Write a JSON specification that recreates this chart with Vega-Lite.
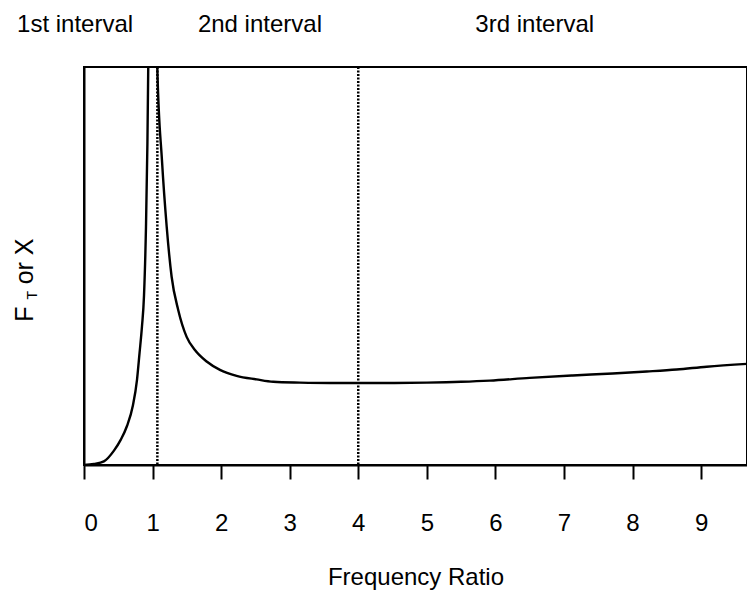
{
  "$schema": "https://vega.github.io/schema/vega-lite/v6.json",
  "autosize": "none",
  "padding": {"left": 84, "top": 67, "right": 0, "bottom": 138},
  "width": 663,
  "height": 398,
  "background": "white",
  "config": {
    "view": {"stroke": "black", "strokeWidth": 2},
    "font": "Liberation Sans",
    "text": {"font": "Liberation Sans", "color": "black", "fontWeight": "normal"}
  },
  "layer": [
    {
      "data": {
        "values": [
          {"ratio": 0, "amp": 0}, {"ratio": 0.146, "amp": 0.25}, {"ratio": 0.29, "amp": 0.9},
          {"ratio": 0.437, "amp": 3.6}, {"ratio": 0.535, "amp": 6.3}, {"ratio": 0.627, "amp": 9.8},
          {"ratio": 0.714, "amp": 15.0}, {"ratio": 0.773, "amp": 21.4}, {"ratio": 0.81, "amp": 28.1},
          {"ratio": 0.845, "amp": 34.7}, {"ratio": 0.875, "amp": 42.5}, {"ratio": 0.904, "amp": 59.8},
          {"ratio": 0.925, "amp": 80.9}, {"ratio": 0.937, "amp": 100}, {"ratio": 1.0, "amp": 300},
          {"ratio": 1.069, "amp": 100}, {"ratio": 1.137, "amp": 76.6}, {"ratio": 1.206, "amp": 59.9},
          {"ratio": 1.278, "amp": 47.3}, {"ratio": 1.375, "amp": 38.9}, {"ratio": 1.497, "amp": 32.2},
          {"ratio": 1.618, "amp": 28.9}, {"ratio": 1.789, "amp": 26.0}, {"ratio": 1.983, "amp": 23.9},
          {"ratio": 2.226, "amp": 22.4}, {"ratio": 2.518, "amp": 21.5}, {"ratio": 2.76, "amp": 20.9},
          {"ratio": 3.149, "amp": 20.7}, {"ratio": 3.586, "amp": 20.6}, {"ratio": 4.315, "amp": 20.6},
          {"ratio": 5.0, "amp": 20.7}, {"ratio": 5.5, "amp": 20.9}, {"ratio": 5.918, "amp": 21.2},
          {"ratio": 6.5, "amp": 21.9}, {"ratio": 7.128, "amp": 22.5}, {"ratio": 7.711, "amp": 23.0},
          {"ratio": 8.207, "amp": 23.5}, {"ratio": 8.644, "amp": 24.0}, {"ratio": 9.082, "amp": 24.7},
          {"ratio": 9.67, "amp": 25.4}
        ]
      },
      "mark": {"type": "line", "color": "black", "strokeWidth": 2.4, "clip": true, "interpolate": "monotone"},
      "encoding": {
        "x": {
          "field": "ratio", "type": "quantitative",
          "scale": {"domain": [0, 9.67], "nice": false, "zero": false},
          "axis": {
            "values": [0, 1, 2, 3, 4, 5, 6, 7, 8, 9],
            "format": "d",
            "title": "Frequency Ratio",
            "grid": false,
            "domainColor": "black", "domainWidth": 2,
            "tickColor": "black", "tickWidth": 2, "tickSize": 14,
            "labelFont": "Liberation Sans", "labelFontSize": 24, "labelColor": "black",
            "labelPadding": 32,
            "titleFont": "Liberation Sans", "titleFontSize": 24, "titleFontWeight": "normal",
            "titleColor": "black", "titlePadding": 30
          }
        },
        "y": {
          "field": "amp", "type": "quantitative",
          "scale": {"domain": [0, 100], "nice": false},
          "axis": {
            "title": null, "labels": false, "ticks": false, "grid": false,
            "domainColor": "black", "domainWidth": 2
          }
        }
      }
    },
    {
      "data": {"values": [{"pos": 1.07}, {"pos": 4}]},
      "mark": {"type": "rule", "color": "black", "strokeWidth": 2.5, "strokeDash": [2, 1.5]},
      "encoding": {"x": {"field": "pos", "type": "quantitative"}}
    },
    {
      "data": {"values": [{}]},
      "mark": {"type": "text", "text": "1st  interval", "fontSize": 24, "fontWeight": "normal", "align": "center", "baseline": "middle", "clip": false},
      "encoding": {"x": {"datum": -0.13, "type": "quantitative"}, "y": {"datum": 110.5, "type": "quantitative"}}
    },
    {
      "data": {"values": [{}]},
      "mark": {"type": "text", "text": "2nd interval", "fontSize": 24, "fontWeight": "normal", "align": "center", "baseline": "middle", "clip": false},
      "encoding": {"x": {"datum": 2.566, "type": "quantitative"}, "y": {"datum": 110.5, "type": "quantitative"}}
    },
    {
      "data": {"values": [{}]},
      "mark": {"type": "text", "text": "3rd  interval", "fontSize": 24, "fontWeight": "normal", "align": "center", "baseline": "middle", "clip": false},
      "encoding": {"x": {"datum": 6.574, "type": "quantitative"}, "y": {"datum": 110.5, "type": "quantitative"}}
    },
    {
      "data": {"values": [{}]},
      "mark": {"type": "text", "text": "F", "fontSize": 25, "fontWeight": "normal", "angle": 270, "align": "left", "baseline": "alphabetic", "clip": false},
      "encoding": {"x": {"datum": -0.743, "type": "quantitative"}, "y": {"datum": 36, "type": "quantitative"}}
    },
    {
      "data": {"values": [{}]},
      "mark": {"type": "text", "text": "T", "fontSize": 14, "fontWeight": "normal", "angle": 270, "align": "left", "baseline": "alphabetic", "clip": false},
      "encoding": {"x": {"datum": -0.69, "type": "quantitative"}, "y": {"datum": 41.6, "type": "quantitative"}}
    },
    {
      "data": {"values": [{}]},
      "mark": {"type": "text", "text": "or X", "fontSize": 25, "fontWeight": "normal", "angle": 270, "align": "left", "baseline": "alphabetic", "clip": false},
      "encoding": {"x": {"datum": -0.743, "type": "quantitative"}, "y": {"datum": 45.4, "type": "quantitative"}}
    }
  ]
}
